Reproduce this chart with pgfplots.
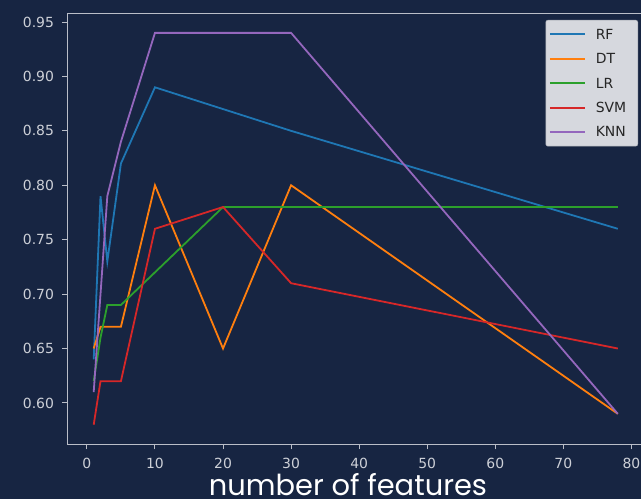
\documentclass[border=0pt]{standalone}
\usepackage{pgfplots}
\pgfplotsset{compat=1.18}
\usepackage{fontspec}
\setmainfont{DejaVu Sans}
\newfontfamily\labelfont{Poppins}
\definecolor{bg}{RGB}{23,37,66}
\definecolor{spine}{RGB}{186,190,200}
\definecolor{ticktext}{RGB}{205,208,215}
\definecolor{legfill}{RGB}{214,216,222}
\definecolor{legdraw}{RGB}{160,164,172}
\definecolor{cRF}{HTML}{1F77B4}
\definecolor{cDT}{HTML}{FF7F0E}
\definecolor{cLR}{HTML}{2CA02C}
\definecolor{cSVM}{HTML}{D62728}
\definecolor{cKNN}{HTML}{9467BD}
\begin{document}
\begin{tikzpicture}
\fill[bg] (0bp,0bp) rectangle (641bp,499bp);
\begin{axis}[
  at={(67.5bp,54.7bp)}, anchor=south west,
  scale only axis, width=576.5bp, height=431bp,
  xmin=-2.85, xmax=81.85, ymin=0.562, ymax=0.958,
  xtick={0,10,20,30,40,50,60,70,80},
  ytick={0.60,0.65,0.70,0.75,0.80,0.85,0.90,0.95},
  yticklabel style={/pgf/number format/fixed,/pgf/number format/precision=2,/pgf/number format/fixed zerofill, xshift=-5bp},
  xticklabel style={yshift=-5bp},
  /pgf/number format/assume math mode=true,
  ticklabel style={font=\fontsize{14}{14}\selectfont, text=ticktext},
  axis line style={draw=spine, line width=1.3bp},
  tick style={draw=spine, line width=1bp},
  tick align=outside, major tick length=5bp,
  xtick pos=bottom, ytick pos=left,
  legend cell align=left,
  legend style={at={(0.9896,0.9845)}, anchor=north east,
    fill=legfill, draw=legdraw, rounded corners=2bp,
    font=\fontsize{14}{14}\selectfont, text=black!85,
    inner xsep=3bp, inner ysep=2bp,
    nodes={inner xsep=1bp, inner ysep=0bp, minimum height=24.4bp, text height=10bp, text depth=0bp},
    /tikz/every odd column/.append style={column sep=9bp}},
  legend image code/.code={\draw[#1, line width=2bp, line cap=butt] (0bp,0bp) -- (35bp,0bp);},
]
\addplot[cRF, line width=1.8bp] coordinates {(1,0.64)(2,0.79)(3,0.73)(5,0.82)(10,0.89)(20,0.87)(30,0.85)(78,0.76)};
\addplot[cDT, line width=1.8bp] coordinates {(1,0.65)(2,0.67)(3,0.67)(5,0.67)(10,0.80)(20,0.65)(30,0.80)(78,0.59)};
\addplot[cLR, line width=1.8bp] coordinates {(1,0.62)(2,0.66)(3,0.69)(5,0.69)(10,0.72)(20,0.78)(30,0.78)(78,0.78)};
\addplot[cSVM, line width=1.8bp] coordinates {(1,0.58)(2,0.62)(3,0.62)(5,0.62)(10,0.76)(20,0.78)(30,0.71)(78,0.65)};
\addplot[cKNN, line width=1.8bp] coordinates {(1,0.61)(2,0.70)(3,0.79)(5,0.84)(10,0.94)(20,0.94)(30,0.94)(78,0.59)};
\legend{\makebox[38bp][l]{RF},\makebox[38bp][l]{DT},\makebox[38bp][l]{LR},\makebox[38bp][l]{SVM},\makebox[38bp][l]{KNN}}
\end{axis}
\node[anchor=base, inner sep=0pt, text=white, font=\labelfont\fontsize{29}{29}\selectfont] at (348bp,4bp) {number of features};
\pgfresetboundingbox
\path[use as bounding box] (0bp,0bp) rectangle (641bp,499bp);
\end{tikzpicture}
\end{document}
